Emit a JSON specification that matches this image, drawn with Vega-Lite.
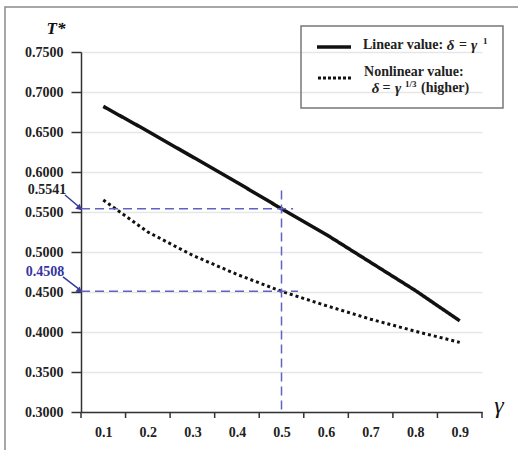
{
  "$schema": "https://vega.github.io/schema/vega-lite/v6.json",
  "width": 401,
  "height": 360,
  "autosize": {"type": "none"},
  "padding": {"left": 81, "top": 52, "right": 36, "bottom": 38},
  "background": "white",
  "config": {
    "view": {"stroke": null},
    "font": "Liberation Serif"
  },
  "datasets": {
    "curves": [
      {"gamma": 0.1, "T": 0.682, "series": "Linear"},
      {"gamma": 0.2, "T": 0.651, "series": "Linear"},
      {"gamma": 0.3, "T": 0.619, "series": "Linear"},
      {"gamma": 0.4, "T": 0.587, "series": "Linear"},
      {"gamma": 0.5, "T": 0.5541, "series": "Linear"},
      {"gamma": 0.6, "T": 0.522, "series": "Linear"},
      {"gamma": 0.7, "T": 0.487, "series": "Linear"},
      {"gamma": 0.8, "T": 0.452, "series": "Linear"},
      {"gamma": 0.9, "T": 0.414, "series": "Linear"},
      {"gamma": 0.1, "T": 0.565, "series": "Nonlinear"},
      {"gamma": 0.2, "T": 0.525, "series": "Nonlinear"},
      {"gamma": 0.3, "T": 0.496, "series": "Nonlinear"},
      {"gamma": 0.4, "T": 0.472, "series": "Nonlinear"},
      {"gamma": 0.5, "T": 0.4508, "series": "Nonlinear"},
      {"gamma": 0.6, "T": 0.433, "series": "Nonlinear"},
      {"gamma": 0.7, "T": 0.416, "series": "Nonlinear"},
      {"gamma": 0.8, "T": 0.401, "series": "Nonlinear"},
      {"gamma": 0.9, "T": 0.387, "series": "Nonlinear"}
    ],
    "xticks": [
      {"x": 0.05}, {"x": 0.15}, {"x": 0.25}, {"x": 0.35}, {"x": 0.45},
      {"x": 0.55}, {"x": 0.65}, {"x": 0.75}, {"x": 0.85}, {"x": 0.95}
    ],
    "guides": [
      {"x": 0.05, "x2": 0.526, "y": 0.5541, "y2": 0.5541},
      {"x": 0.05, "x2": 0.537, "y": 0.4508, "y2": 0.4508},
      {"x": 0.5, "x2": 0.5, "y": 0.577, "y2": 0.30}
    ],
    "arrows": [
      {"x": 0.0141, "y": 0.5713, "x2": 0.044, "y2": 0.5572},
      {"x": 0.0096, "y": 0.4688, "x2": 0.044, "y2": 0.4541}
    ],
    "heads": [
      {"x": 0.0455, "y": 0.5555},
      {"x": 0.0455, "y": 0.4522}
    ]
  },
  "layer": [
    {
      "data": {"name": "curves"},
      "mark": {"type": "line", "color": "#111111", "clip": false},
      "encoding": {
        "x": {
          "field": "gamma", "type": "quantitative",
          "scale": {"domain": [0.05, 0.95], "nice": false, "zero": false},
          "axis": {
            "title": null,
            "values": [0.1, 0.2, 0.3, 0.4, 0.5, 0.6, 0.7, 0.8, 0.9],
            "format": ".1f",
            "grid": false,
            "ticks": false,
            "domainColor": "#333333",
            "domainWidth": 1.5,
            "labelFont": "Liberation Serif",
            "labelFontWeight": "bold",
            "labelFontSize": 14,
            "labelColor": "#222222",
            "labelPadding": 13,
            "labelFlush": false,
            "labelOverlap": false
          }
        },
        "y": {
          "field": "T", "type": "quantitative",
          "scale": {"domain": [0.30, 0.75], "nice": false, "zero": false},
          "axis": {
            "title": null,
            "values": [0.30, 0.35, 0.40, 0.45, 0.50, 0.55, 0.60, 0.65, 0.70, 0.75],
            "tickCount": 10,
            "format": ".4f",
            "grid": true,
            "gridColor": "#e6e6e6",
            "gridWidth": 1.5,
            "domainColor": "#333333",
            "domainWidth": 1.5,
            "tickColor": "#333333",
            "tickWidth": 1.5,
            "tickSize": 10,
            "labelFont": "Liberation Serif",
            "labelFontWeight": "bold",
            "labelFontSize": 14,
            "labelColor": "#222222",
            "labelPadding": 8,
            "labelFlush": false,
            "labelOverlap": false
          }
        },
        "strokeDash": {
          "field": "series", "type": "nominal",
          "scale": {"domain": ["Linear", "Nonlinear"], "range": [[1, 0], [3, 3]]},
          "legend": null
        },
        "strokeWidth": {
          "field": "series", "type": "nominal",
          "scale": {"domain": ["Linear", "Nonlinear"], "range": [3.5, 3]},
          "legend": null
        }
      }
    },
    {
      "data": {"values": [{"x": -0.1206, "x2": 1.0465, "y": 0.80625, "y2": 0.24}]},
      "mark": {"type": "rect", "fill": null, "stroke": "#8a8a8a", "strokeWidth": 1.5, "clip": false},
      "encoding": {
        "x": {"field": "x", "type": "quantitative"},
        "x2": {"field": "x2"},
        "y": {"field": "y", "type": "quantitative"},
        "y2": {"field": "y2"}
      }
    },
    {
      "data": {"name": "xticks"},
      "mark": {"type": "rule", "color": "#333333", "strokeWidth": 1.5, "clip": false},
      "encoding": {
        "x": {"field": "x", "type": "quantitative"},
        "y": {"datum": 0.30, "type": "quantitative"},
        "y2": {"datum": 0.2925}
      }
    },
    {
      "data": {"name": "guides"},
      "mark": {"type": "rule", "color": "#6262c2", "strokeWidth": 1.5, "strokeDash": [9, 5], "clip": false},
      "encoding": {
        "x": {"field": "x", "type": "quantitative"},
        "x2": {"field": "x2"},
        "y": {"field": "y", "type": "quantitative"},
        "y2": {"field": "y2"}
      }
    },
    {
      "data": {"name": "arrows"},
      "mark": {"type": "rule", "color": "#3a3a9a", "strokeWidth": 1.5, "clip": false},
      "encoding": {
        "x": {"field": "x", "type": "quantitative"},
        "x2": {"field": "x2"},
        "y": {"field": "y", "type": "quantitative"},
        "y2": {"field": "y2"}
      }
    },
    {
      "data": {"name": "heads"},
      "mark": {"type": "point", "shape": "triangle", "filled": true, "color": "#3a3a9a", "size": 45, "angle": 131, "opacity": 1, "clip": false},
      "encoding": {
        "x": {"field": "x", "type": "quantitative"},
        "y": {"field": "y", "type": "quantitative"}
      }
    },
    {
      "data": {"values": [{"label": "0.5541", "x": -0.0263, "y": 0.5775}]},
      "mark": {"type": "text", "font": "Liberation Serif", "fontWeight": "bold", "fontSize": 14, "color": "#222222", "align": "center", "baseline": "middle", "clip": false},
      "encoding": {
        "x": {"field": "x", "type": "quantitative"},
        "y": {"field": "y", "type": "quantitative"},
        "text": {"field": "label"}
      }
    },
    {
      "data": {"values": [{"label": "0.4508", "x": -0.0308, "y": 0.475}]},
      "mark": {"type": "text", "font": "Liberation Serif", "fontWeight": "bold", "fontSize": 14, "color": "#3535a0", "align": "center", "baseline": "middle", "clip": false},
      "encoding": {
        "x": {"field": "x", "type": "quantitative"},
        "y": {"field": "y", "type": "quantitative"},
        "text": {"field": "label"}
      }
    },
    {
      "data": {"values": [{"label": "T*", "x": -0.0061, "y": 0.7788}]},
      "mark": {"type": "text", "font": "Liberation Serif", "fontWeight": "bold", "fontStyle": "italic", "fontSize": 17, "color": "#111111", "align": "center", "baseline": "middle", "clip": false},
      "encoding": {
        "x": {"field": "x", "type": "quantitative"},
        "y": {"field": "y", "type": "quantitative"},
        "text": {"field": "label"}
      }
    },
    {
      "data": {"values": [{"label": "γ", "x": 0.988, "y": 0.307}]},
      "mark": {"type": "text", "font": "Liberation Serif", "fontStyle": "italic", "fontSize": 24, "color": "#111111", "align": "center", "baseline": "middle", "clip": false},
      "encoding": {
        "x": {"field": "x", "type": "quantitative"},
        "y": {"field": "y", "type": "quantitative"},
        "text": {"field": "label"}
      }
    },
    {
      "data": {"values": [{"x": 0.5438, "x2": 0.9971, "y": 0.7825, "y2": 0.68}]},
      "mark": {"type": "rect", "fill": null, "stroke": "#777777", "strokeWidth": 1.5, "clip": false},
      "encoding": {
        "x": {"field": "x", "type": "quantitative"},
        "x2": {"field": "x2"},
        "y": {"field": "y", "type": "quantitative"},
        "y2": {"field": "y2"}
      }
    },
    {
      "data": {"values": [{"x": 0.5797, "x2": 0.656, "y": 0.75625, "y2": 0.75625}]},
      "mark": {"type": "rule", "color": "#111111", "strokeWidth": 3.5, "clip": false},
      "encoding": {
        "x": {"field": "x", "type": "quantitative"},
        "x2": {"field": "x2"},
        "y": {"field": "y", "type": "quantitative"},
        "y2": {"field": "y2"}
      }
    },
    {
      "data": {"values": [{"x": 0.5819, "x2": 0.6582, "y": 0.7175, "y2": 0.7175}]},
      "mark": {"type": "rule", "color": "#111111", "strokeWidth": 3, "strokeDash": [3, 2], "clip": false},
      "encoding": {
        "x": {"field": "x", "type": "quantitative"},
        "x2": {"field": "x2"},
        "y": {"field": "y", "type": "quantitative"},
        "y2": {"field": "y2"}
      }
    },
    {
      "data": {"values": [
        {"label": "Linear value:", "x": 0.6829, "y": 0.75875},
        {"label": "Nonlinear value:", "x": 0.6852, "y": 0.725},
        {"label": "(higher)", "x": 0.8131, "y": 0.705}
      ]},
      "mark": {"type": "text", "font": "Liberation Serif", "fontWeight": "bold", "fontSize": 14, "color": "#222222", "align": "left", "baseline": "middle", "clip": false},
      "encoding": {
        "x": {"field": "x", "type": "quantitative"},
        "y": {"field": "y", "type": "quantitative"},
        "text": {"field": "label"}
      }
    },
    {
      "data": {"values": [
        {"label": "δ", "x": 0.8793, "y": 0.75875},
        {"label": "γ", "x": 0.9321, "y": 0.75875},
        {"label": "δ", "x": 0.711, "y": 0.705},
        {"label": "γ", "x": 0.7615, "y": 0.705}
      ]},
      "mark": {"type": "text", "font": "Liberation Serif", "fontStyle": "italic", "fontWeight": "bold", "fontSize": 15, "color": "#222222", "align": "center", "baseline": "middle", "clip": false},
      "encoding": {
        "x": {"field": "x", "type": "quantitative"},
        "y": {"field": "y", "type": "quantitative"},
        "text": {"field": "label"}
      }
    },
    {
      "data": {"values": [
        {"label": "=", "x": 0.9074, "y": 0.75875},
        {"label": "=", "x": 0.7357, "y": 0.705}
      ]},
      "mark": {"type": "text", "font": "Liberation Serif", "fontWeight": "bold", "fontSize": 14, "color": "#222222", "align": "center", "baseline": "middle", "clip": false},
      "encoding": {
        "x": {"field": "x", "type": "quantitative"},
        "y": {"field": "y", "type": "quantitative"},
        "text": {"field": "label"}
      }
    },
    {
      "data": {"values": [
        {"label": "1", "x": 0.9522, "y": 0.76375},
        {"label": "1/3", "x": 0.7772, "y": 0.71}
      ]},
      "mark": {"type": "text", "font": "Liberation Serif", "fontWeight": "bold", "fontSize": 9, "color": "#222222", "align": "left", "baseline": "middle", "clip": false},
      "encoding": {
        "x": {"field": "x", "type": "quantitative"},
        "y": {"field": "y", "type": "quantitative"},
        "text": {"field": "label"}
      }
    }
  ]
}
